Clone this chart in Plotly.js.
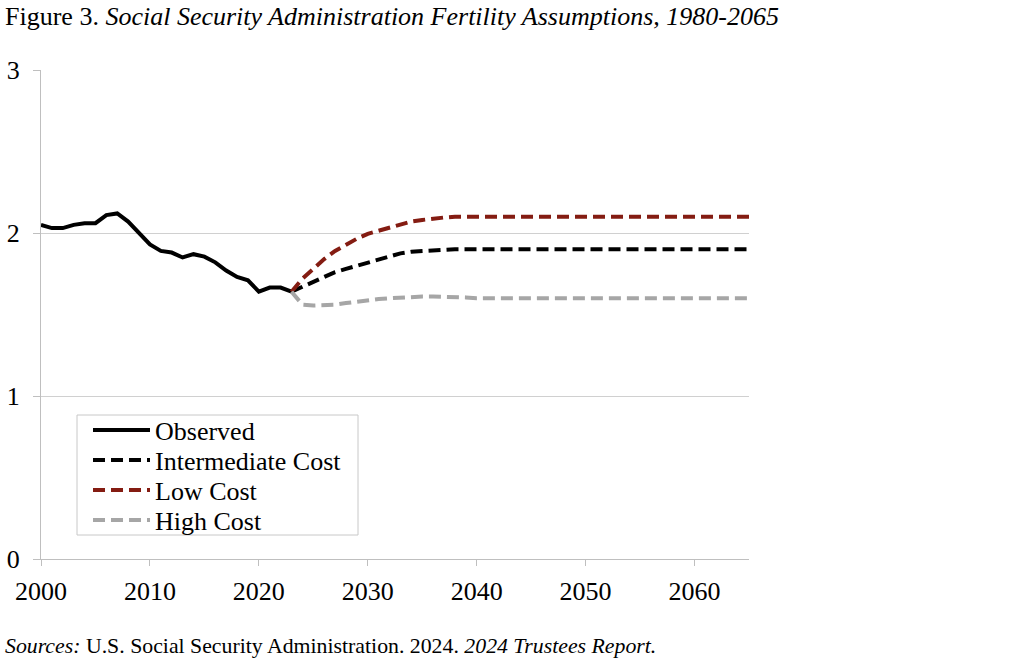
<!DOCTYPE html>
<html>
<head>
<meta charset="utf-8">
<script src="https://cdn.plot.ly/plotly-3.0.1.min.js"></script>
<style>
html,body{margin:0;padding:0;background:#fff;}
#chart{width:1024px;height:661px;}
</style>
</head>
<body>
<div id="chart"></div>
<script>
var obsYears = [2000,2001,2002,2003,2004,2005,2006,2007,2008,2009,2010,2011,2012,2013,2014,2015,2016,2017,2018,2019,2020,2021,2022,2023];
var observed = [2.05,2.03,2.03,2.05,2.06,2.06,2.11,2.12,2.07,2.00,1.93,1.89,1.88,1.85,1.87,1.855,1.82,1.77,1.73,1.71,1.64,1.665,1.665,1.64];

var projYears = [2023,2024,2025,2026,2027,2028,2029,2030,2031,2032,2033,2034,2035,2036,2037,2038,2039,2040,2041,2042,2043,2044,2045,2046,2047,2048,2049,2050,2051,2052,2053,2054,2055,2056,2057,2058,2059,2060,2061,2062,2063,2064,2065];
var intermediate = [1.64,1.67,1.70,1.73,1.76,1.78,1.80,1.82,1.84,1.86,1.875,1.885,1.89,1.895,1.90,1.90,1.90,1.90,1.90,1.90,1.90,1.90,1.90,1.90,1.90,1.90,1.90,1.90,1.90,1.90,1.90,1.90,1.90,1.90,1.90,1.90,1.90,1.90,1.90,1.90,1.90,1.90,1.90];
var lowCost = [1.64,1.72,1.78,1.84,1.89,1.93,1.965,1.995,2.015,2.035,2.055,2.07,2.08,2.09,2.095,2.10,2.10,2.10,2.10,2.10,2.10,2.10,2.10,2.10,2.10,2.10,2.10,2.10,2.10,2.10,2.10,2.10,2.10,2.10,2.10,2.10,2.10,2.10,2.10,2.10,2.10,2.10,2.10];
var highCost = [1.64,1.56,1.555,1.555,1.56,1.57,1.58,1.59,1.595,1.60,1.605,1.61,1.61,1.61,1.61,1.61,1.605,1.60,1.60,1.60,1.60,1.60,1.60,1.60,1.60,1.60,1.60,1.60,1.60,1.60,1.60,1.60,1.60,1.60,1.60,1.60,1.60,1.60,1.60,1.60,1.60,1.60,1.60];

var seriesNames = ['Observed','Intermediate Cost','Low Cost','High Cost'];
var xTicks = [2000,2010,2020,2030,2040,2050,2060];
var yTicks = [0,1,2,3];

var serif = 'Liberation Serif, Times New Roman, serif';
var dashStyle = '12px,6px';

// plot area geometry (px)
var W = 1024, H = 661, ML = 41, MR = 275, MT = 70, MB = 102;
var PW = W - ML - MR, PH = H - MT - MB;
function px(xp){ return (xp - ML) / PW; }
function py(yp){ return (H - MB - yp) / PH; }

var traces = [
  {x: obsYears, y: observed, name: seriesNames[0], mode: 'lines', line: {color: '#000000', width: 4}, legend: 'legend'},
  {x: projYears, y: intermediate, name: seriesNames[1], mode: 'lines', line: {color: '#000000', width: 4, dash: dashStyle}, legend: 'legend2'},
  {x: projYears, y: lowCost, name: seriesNames[2], mode: 'lines', line: {color: '#841c12', width: 4, dash: dashStyle}, legend: 'legend3'},
  {x: projYears, y: highCost, name: seriesNames[3], mode: 'lines', line: {color: '#a6a6a6', width: 4, dash: dashStyle}, legend: 'legend4'}
];

function legendAt(rowY){
  return {
    x: px(88), y: py(rowY), xanchor: 'left', yanchor: 'middle',
    bgcolor: 'rgba(0,0,0,0)', borderwidth: 0,
    font: {family: serif, size: 26, color: '#000'},
    itemwidth: 57
  };
}

var layout = {
  width: W, height: H,
  margin: {l: ML, r: MR, t: MT, b: MB},
  paper_bgcolor: '#ffffff', plot_bgcolor: '#ffffff',
  font: {family: serif, size: 26, color: '#000'},
  showlegend: true,
  legend: legendAt(430),
  legend2: legendAt(460),
  legend3: legendAt(490),
  legend4: legendAt(520),
  xaxis: {
    range: [2000, 2065], tickvals: xTicks, ticktext: xTicks.map(String),
    showgrid: false, zeroline: false, showline: true, linecolor: '#bfbfbf', linewidth: 1,
    ticks: 'outside', ticklen: 6, tickcolor: '#bfbfbf', ticklabelstandoff: 3,
    tickfont: {family: serif, size: 26, color: '#000'}, fixedrange: true
  },
  yaxis: {
    range: [0, 3], tickvals: yTicks, ticktext: yTicks.map(String),
    showgrid: true, gridcolor: '#d0d0d0', gridwidth: 1, zeroline: false,
    showline: true, linecolor: '#bfbfbf', linewidth: 1,
    ticks: 'outside', ticklen: 7, tickcolor: '#bfbfbf', ticklabelstandoff: 8,
    tickfont: {family: serif, size: 26, color: '#000'}, fixedrange: true
  },
  shapes: [
    {type: 'rect', xref: 'paper', yref: 'paper', layer: 'above',
     x0: px(77), x1: px(358), y0: py(535), y1: py(415),
     fillcolor: '#ffffff', line: {color: '#c8c8c8', width: 1}}
  ],
  annotations: [
    {xref: 'paper', yref: 'paper', x: px(3), y: py(0), xanchor: 'left', yanchor: 'top', yshift: 0,
     showarrow: false, align: 'left',
     text: 'Figure 3. <i>Social Security Administration Fertility Assumptions, 1980-2065</i>',
     font: {family: serif, size: 26, color: '#000'}},
    {xref: 'paper', yref: 'paper', x: px(3), y: py(661), xanchor: 'left', yanchor: 'bottom', yshift: 1,
     showarrow: false, align: 'left',
     text: '<i>Sources:</i> U.S. Social Security Administration. 2024. <i>2024 Trustees Report.</i>',
     font: {family: serif, size: 21.8, color: '#000'}}
  ]
};

Plotly.newPlot('chart', traces, layout, {displayModeBar: false, staticPlot: true});
</script>
</body>
</html>
